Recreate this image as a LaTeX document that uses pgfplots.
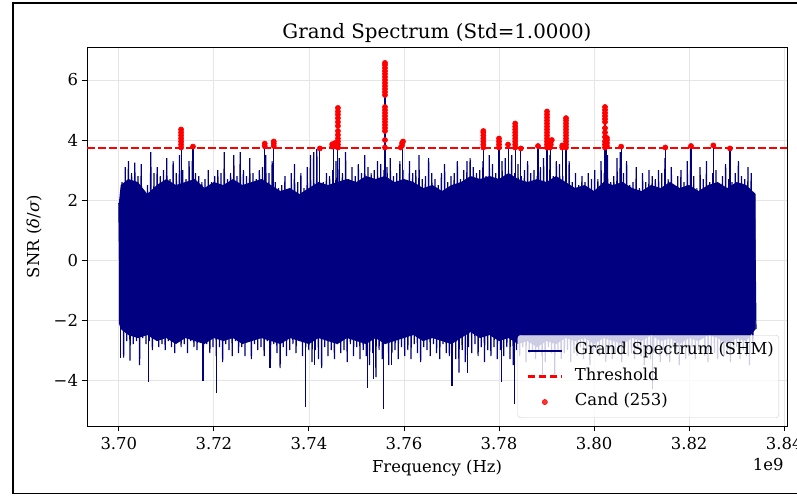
\documentclass[border=0pt]{standalone}
\usepackage{pgfplots}
\pgfplotsset{compat=1.18}
\usepackage{fontspec}
\setmainfont{DejaVu Serif}
\definecolor{specnavy}{RGB}{0,0,128}
\definecolor{thrred}{RGB}{255,0,0}
\begin{document}
\begin{tikzpicture}[x=1bp,y=1bp]
\useasboundingbox (0,0) rectangle (797,496);
\draw[line width=1.6bp] (13,2.5) rectangle (830,493.2);
\begin{axis}[
  at={(87bp,70bp)}, anchor=south west,
  scale only axis, width=700bp, height=379bp,
  xmin=3.6933, xmax=3.8406, ymin=-5.53, ymax=7.1,
  xtick={3.70,3.72,3.74,3.76,3.78,3.80,3.82,3.84},
  xticklabels={3.70,3.72,3.74,3.76,3.78,3.80,3.82,3.84},
  ytick={-4,-2,0,2,4,6},
  yticklabels={−4,−2,0,2,4,6},
  tick pos=left, tick align=outside,
  major tick length=5.5bp,
  every tick/.style={black, line width=0.9bp},
  axis line style={line width=0.9bp},
  grid=major, grid style={black!10, line width=0.8bp},
  ticklabel style={font=\fontsize{16.5}{19.8}\selectfont},
  xticklabel shift=2bp,
  legend cell align=left,
  legend image code/.code={\path (-6bp,0bp) (44bp,0bp); \draw[mark repeat=2,mark phase=2,#1] plot coordinates {(0bp,0bp) (17bp,0bp) (34bp,0bp)};},
  legend style={at={(0.9886,0.0211)}, anchor=south east, draw=black!20, fill=white, fill opacity=0.8, draw opacity=1, text opacity=1, rounded corners=3bp, font=\fontsize{16.5}{19.8}\selectfont, inner sep=3bp, nodes={text height=12bp, text depth=4.5bp, inner ysep=4.5bp}},
]
% solid core of the spectrum
\addplot[fill=specnavy, draw=none, forget plot] coordinates {
(3.700,1.9)(3.7004,2.5)(3.702,2.7)(3.704,2.6)(3.706,2.2)(3.708,2.5)(3.710,2.7)(3.712,2.5)(3.714,2.6)(3.716,2.7)(3.718,2.4)(3.720,2.6)(3.722,2.5)(3.724,2.7)(3.726,2.5)(3.728,2.6)(3.730,2.7)(3.732,2.5)(3.734,2.3)(3.736,2.4)(3.738,2.2)(3.740,2.4)(3.742,2.6)(3.744,2.5)(3.746,2.6)(3.748,2.7)(3.750,2.6)(3.752,2.8)(3.754,2.7)(3.756,2.8)(3.758,2.6)(3.760,2.7)(3.762,2.6)(3.764,2.4)(3.766,2.5)(3.768,2.3)(3.770,2.5)(3.772,2.6)(3.774,2.8)(3.776,2.7)(3.778,2.8)(3.780,2.7)(3.782,2.9)(3.784,2.7)(3.786,2.6)(3.788,2.7)(3.790,2.6)(3.792,2.8)(3.794,2.6)(3.796,2.4)(3.798,2.5)(3.800,2.3)(3.802,2.6)(3.804,2.5)(3.806,2.6)(3.808,2.4)(3.810,2.3)(3.812,2.5)(3.814,2.4)(3.816,2.6)(3.818,2.4)(3.820,2.5)(3.822,2.3)(3.824,2.5)(3.826,2.6)(3.828,2.4)(3.830,2.6)(3.832,2.5)(3.834,2.2)
(3.834,-2.3)(3.832,-2.7)(3.830,-2.6)(3.828,-2.8)(3.826,-2.6)(3.824,-2.5)(3.822,-2.7)(3.820,-2.6)(3.818,-2.8)(3.816,-2.6)(3.814,-2.7)(3.812,-2.5)(3.810,-2.7)(3.808,-2.6)(3.806,-2.8)(3.804,-2.7)(3.802,-2.6)(3.800,-2.8)(3.798,-2.6)(3.796,-2.7)(3.794,-2.6)(3.792,-2.8)(3.790,-2.7)(3.788,-2.9)(3.786,-2.7)(3.784,-2.8)(3.782,-2.6)(3.780,-2.7)(3.778,-2.5)(3.776,-2.6)(3.774,-2.4)(3.772,-2.6)(3.770,-2.8)(3.768,-2.7)(3.766,-2.6)(3.764,-2.7)(3.762,-2.5)(3.760,-2.6)(3.758,-2.7)(3.756,-2.8)(3.754,-2.6)(3.752,-2.8)(3.750,-2.7)(3.748,-2.6)(3.746,-2.8)(3.744,-2.7)(3.742,-2.6)(3.740,-2.8)(3.738,-2.7)(3.736,-2.6)(3.734,-2.8)(3.732,-2.7)(3.730,-2.6)(3.728,-2.7)(3.726,-2.8)(3.724,-2.6)(3.722,-2.7)(3.720,-2.6)(3.718,-2.8)(3.716,-2.7)(3.714,-2.6)(3.712,-2.8)(3.710,-2.6)(3.708,-2.7)(3.706,-2.5)(3.704,-2.6)(3.702,-2.5)(3.7004,-2.3)(3.700,-2.1)
};
% spectrum samples (alternating maxima and minima)
\addplot[specnavy, line width=1.2bp] table[header=false, row sep=\\, x expr=3.70+\coordindex*0.000336, y index=0] {
1.9\\-2.1\\2.6\\-3.25\\3.1\\-2.7\\3.3\\-3.35\\2.9\\-2.8\\3.25\\-2.7\\2.8\\-3.5\\3.2\\-2.6\\2.3\\-2.8\\2.5\\-2.7\\
3.6\\-3.0\\2.9\\-2.6\\3.1\\-2.9\\2.8\\-2.8\\3.0\\-3.0\\3.4\\-2.7\\2.7\\-2.9\\3.3\\-3.1\\2.9\\-2.6\\3.5\\-2.9\\
3.0\\-2.8\\2.7\\-3.1\\3.3\\-2.7\\3.3\\-2.9\\2.9\\-3.0\\2.8\\-2.6\\2.6\\-2.9\\2.7\\-2.8\\3.0\\-3.1\\2.6\\-2.9\\
2.8\\-3.2\\3.0\\-2.9\\2.9\\-3.4\\3.6\\-2.8\\2.7\\-3.0\\2.9\\-3.2\\3.5\\-2.7\\2.8\\-3.1\\3.6\\-2.9\\3.0\\-3.2\\
2.8\\-2.6\\3.4\\-3.3\\2.9\\-2.8\\2.7\\-3.0\\3.0\\-2.9\\3.1\\-3.2\\3.5\\-2.7\\2.9\\-3.3\\3.3\\-2.8\\2.6\\-3.1\\
2.4\\-3.6\\2.5\\-2.9\\2.8\\-3.2\\2.3\\-3.0\\2.9\\-2.8\\3.2\\-3.1\\2.6\\-2.7\\2.9\\-3.2\\2.4\\-2.9\\3.1\\-3.0\\
3.5\\-3.4\\3.6\\-3.0\\3.7\\-3.3\\2.5\\-3.6\\2.6\\-2.9\\2.9\\-3.2\\2.8\\-3.0\\3.0\\-3.3\\3.3\\-2.8\\3.4\\-3.1\\
2.9\\-3.0\\3.6\\-3.4\\2.7\\-2.8\\3.1\\-3.2\\2.8\\-2.9\\3.2\\-3.3\\2.9\\-3.0\\3.5\\-3.2\\3.1\\-3.5\\2.9\\-3.1\\
3.0\\-3.9\\3.3\\-3.0\\3.2\\-3.3\\3.0\\-2.8\\3.1\\-3.5\\3.4\\-3.1\\2.8\\-3.0\\2.9\\-3.3\\3.3\\-2.9\\3.0\\-3.2\\
2.6\\-3.0\\3.3\\-3.3\\2.9\\-2.8\\3.0\\-3.1\\3.5\\-3.4\\2.7\\-2.9\\2.8\\-3.0\\3.4\\-3.2\\2.9\\-2.8\\2.7\\-3.1\\
2.5\\-3.3\\2.9\\-2.8\\3.2\\-3.1\\2.6\\-3.2\\2.8\\-2.9\\2.9\\-3.3\\3.3\\-3.75\\2.7\\-3.0\\3.0\\-3.4\\3.3\\-2.9\\
3.4\\-3.1\\3.1\\-2.8\\2.9\\-3.2\\3.0\\-2.9\\3.3\\-3.4\\2.8\\-3.0\\3.5\\-3.2\\3.2\\-2.9\\2.9\\-3.3\\3.4\\-3.0\\
3.3\\-3.2\\3.4\\-2.9\\3.0\\-3.3\\3.5\\-3.5\\2.9\\-3.0\\3.2\\-3.2\\2.8\\-2.9\\3.0\\-3.4\\3.3\\-3.1\\2.9\\-3.0\\
3.0\\-3.3\\2.8\\-3.0\\3.1\\-3.2\\3.4\\-3.4\\2.9\\-2.9\\3.5\\-3.1\\2.8\\-3.8\\3.3\\-3.0\\3.2\\-3.3\\2.8\\-3.1\\
3.1\\-3.0\\3.3\\-3.4\\2.6\\-3.1\\2.9\\-3.2\\2.5\\-2.9\\2.8\\-3.3\\2.6\\-3.0\\2.9\\-3.5\\2.7\\-3.1\\3.0\\-3.0\\
2.7\\-3.2\\3.3\\-2.9\\2.9\\-3.4\\3.5\\-3.0\\2.6\\-3.3\\2.8\\-3.1\\3.4\\-3.0\\3.6\\-3.4\\2.9\\-2.9\\3.3\\-3.2\\
2.5\\-3.1\\2.6\\-3.3\\3.1\\-2.9\\2.4\\-3.2\\2.9\\-3.5\\2.6\\-3.0\\3.0\\-3.3\\2.8\\-3.1\\2.7\\-2.9\\3.0\\-3.4\\
2.9\\-3.0\\3.4\\-3.2\\2.7\\-3.4\\3.1\\-2.9\\2.4\\-3.1\\2.8\\-3.5\\3.0\\-3.0\\2.6\\-3.3\\3.3\\-3.2\\3.0\\-2.9\\
2.8\\-3.3\\2.4\\-3.0\\3.1\\-2.2\\2.7\\-3.2\\3.3\\-3.4\\2.6\\-3.0\\2.9\\-3.1\\3.0\\-3.3\\2.5\\-2.9\\2.8\\-3.2\\
3.2\\-3.0\\2.7\\-3.4\\2.6\\-3.1\\2.9\\-2.9\\3.3\\-3.3\\2.8\\-3.0\\2.7\\-3.2\\3.1\\-3.5\\2.9\\-3.1\\2.2\\-2.3\\
};
\addlegendentry{Grand Spectrum (SHM)}
% isolated strong samples
\addplot[ycomb, specnavy, line width=1.1bp, forget plot] coordinates {
(3.7131,4.37)(3.7156,3.78)(3.7307,3.88)(3.7326,3.95)(3.7423,3.72)(3.7452,3.9)(3.7461,5.07)(3.7560,6.57)(3.7596,3.95)(3.7767,4.3)(3.7800,4.05)(3.7819,3.85)(3.7834,4.55)(3.7846,3.72)(3.7882,3.8)(3.7901,4.95)(3.7909,4.0)(3.7933,3.82)(3.7941,4.73)(3.8023,5.1)(3.8027,4.07)(3.8057,3.78)(3.8150,3.75)(3.8204,3.8)(3.8251,3.82)(3.8286,3.72)
(3.7003,-3.25)(3.7063,-4.07)(3.7177,-4.03)(3.7206,-4.43)(3.7318,-3.6)(3.7392,-4.9)(3.7411,-3.5)(3.7524,-4.27)(3.7535,-3.95)(3.7556,-4.97)(3.7573,-3.5)(3.7701,-4.2)(3.7733,-3.75)(3.7806,-4.05)(3.7832,-4.8)(3.7891,-3.8)(3.8122,-4.3)
};
% threshold
\addplot[draw=thrred, solid, line width=2.1bp, dash pattern=on 7.5bp off 3.5bp] coordinates {(3.6933,3.72)(3.8406,3.72)};
\addlegendentry{Threshold}
% candidates
\addplot[only marks, mark=*, mark size=2.6bp, color=thrred, mark options={fill=thrred, draw=thrred, solid, line width=0.5bp}] coordinates {
(3.7131,3.75)(3.7131,3.85)(3.7131,3.95)(3.7131,4.05)(3.7131,4.15)(3.7131,4.25)(3.7131,4.35)
(3.7156,3.78)
(3.7307,3.80)(3.7307,3.88)
(3.7326,3.80)(3.7326,3.88)(3.7326,3.95)
(3.7423,3.72)
(3.7449,3.78)(3.7449,3.86)(3.7455,3.80)(3.7455,3.90)
(3.7461,3.75)(3.7461,3.85)(3.7461,3.95)(3.7461,4.05)(3.7461,4.17)(3.7461,4.3)(3.7461,4.47)(3.7461,4.6)(3.7461,4.73)(3.7461,4.85)(3.7461,4.95)(3.7461,5.07)
(3.7560,3.75)(3.7560,4.0)(3.7560,4.3)(3.7560,4.4)(3.7560,4.5)(3.7560,4.6)(3.7560,4.7)(3.7560,4.8)(3.7560,4.9)(3.7560,5.0)(3.7560,5.1)(3.7560,5.5)(3.7560,5.6)(3.7560,5.7)(3.7560,5.8)(3.7560,5.9)(3.7560,6.0)(3.7560,6.1)(3.7560,6.2)(3.7560,6.3)(3.7560,6.4)(3.7560,6.5)(3.7560,6.57)
(3.7593,3.75)(3.7596,3.82)(3.7596,3.9)(3.7598,3.95)
(3.7767,3.75)(3.7767,3.85)(3.7767,3.95)(3.7767,4.05)(3.7767,4.15)(3.7767,4.25)(3.7767,4.3)
(3.7800,3.75)(3.7800,3.85)(3.7800,3.95)(3.7800,4.05)
(3.7819,3.85)
(3.7834,3.75)(3.7834,3.85)(3.7834,3.95)(3.7834,4.05)(3.7834,4.15)(3.7834,4.25)(3.7834,4.35)(3.7834,4.45)(3.7834,4.55)
(3.7846,3.72)
(3.7882,3.8)
(3.7901,3.75)(3.7901,3.85)(3.7901,3.95)(3.7901,4.05)(3.7901,4.15)(3.7901,4.25)(3.7901,4.35)(3.7901,4.45)(3.7901,4.55)(3.7901,4.65)(3.7901,4.75)(3.7901,4.85)(3.7901,4.95)
(3.7907,3.75)(3.7909,3.85)(3.7909,3.95)(3.7911,4.0)
(3.7933,3.75)(3.7933,3.82)
(3.7941,3.75)(3.7941,3.85)(3.7941,3.95)(3.7941,4.05)(3.7941,4.15)(3.7941,4.25)(3.7941,4.35)(3.7941,4.45)(3.7941,4.55)(3.7941,4.65)(3.7941,4.73)
(3.8023,3.75)(3.8023,3.85)(3.8023,3.95)(3.8023,4.1)(3.8023,4.25)(3.8023,4.4)(3.8023,4.6)(3.8023,4.7)(3.8023,4.8)(3.8023,4.9)(3.8023,5.0)(3.8023,5.1)
(3.8027,3.8)(3.8027,3.9)(3.8027,4.0)(3.8027,4.07)
(3.8057,3.78)
(3.8150,3.75)
(3.8204,3.8)
(3.8251,3.82)
(3.8286,3.72)
};
\addlegendentry{Cand (253)}
\end{axis}
\node[anchor=base, font=\fontsize{19.9}{24}\selectfont] at (437,457.7) {Grand Spectrum (Std=1.0000)};
\node[anchor=base, font=\fontsize{16.5}{19.8}\selectfont] at (437,23.7) {Frequency (Hz)};
\node[anchor=base east, font=\fontsize{16.5}{19.8}\selectfont] at (787,25) {1e9};
\node[rotate=90, font=\fontsize{16.5}{19.8}\selectfont] at (34,259.5) {SNR (\textit{δ}/\textit{σ})};
\end{tikzpicture}
\end{document}
